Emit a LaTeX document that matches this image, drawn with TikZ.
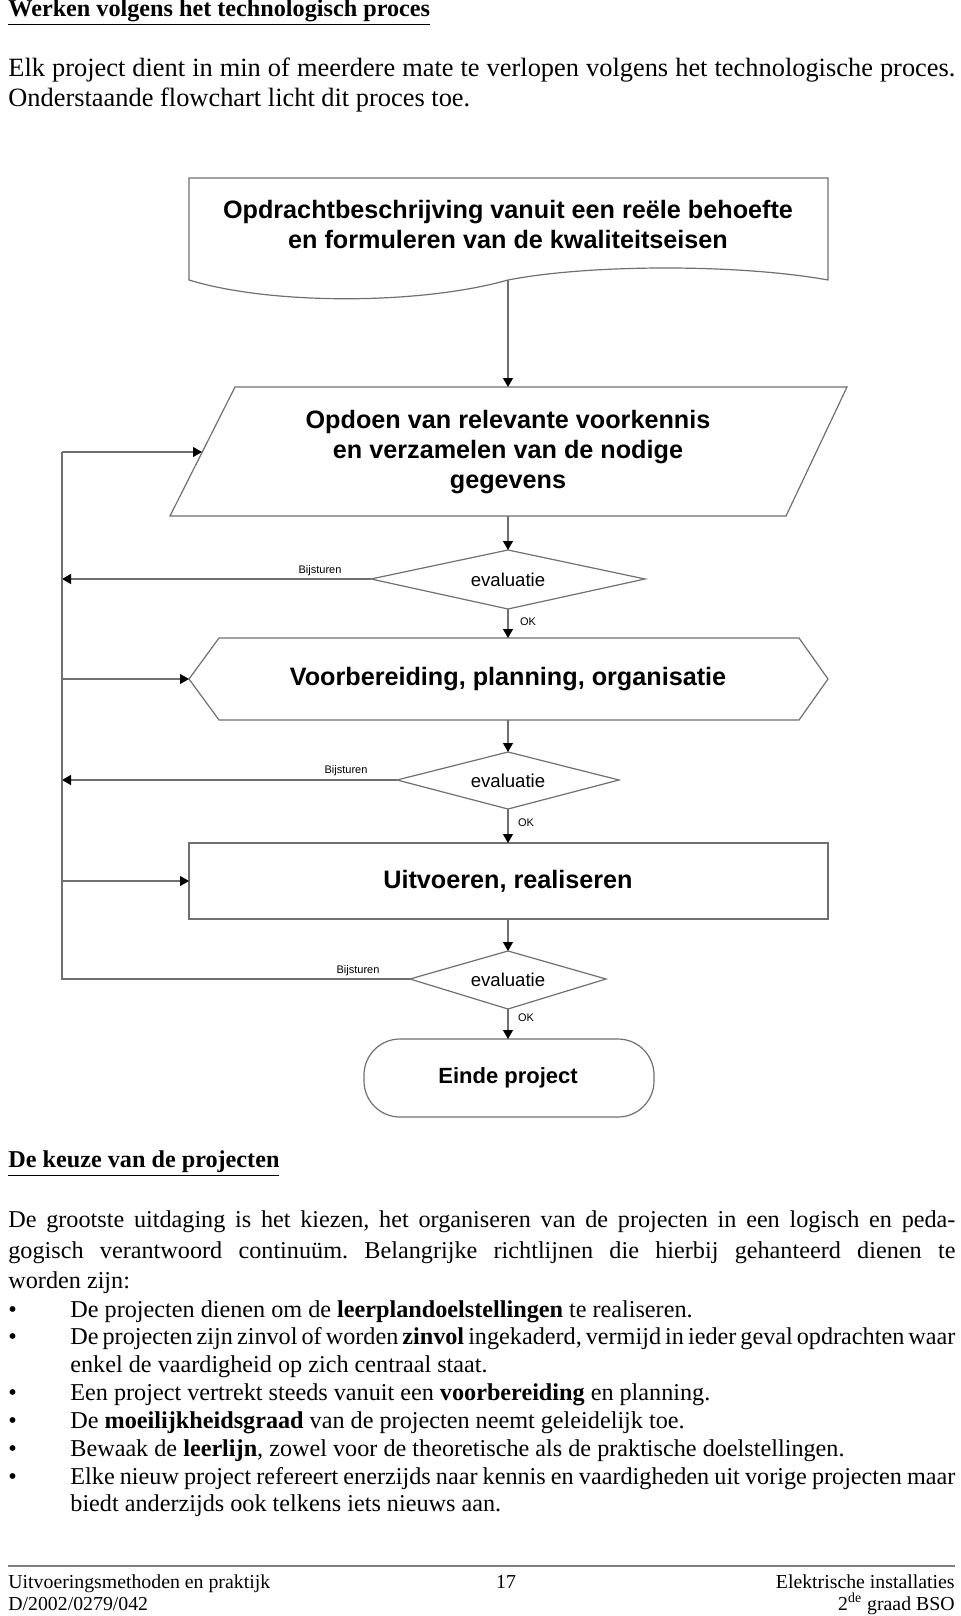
\documentclass[tikz,border=0pt]{standalone}
\usepackage{fontspec}
\setmainfont{Liberation Serif}
\newfontfamily\arial{Liberation Sans}
\usetikzlibrary{arrows.meta}
\definecolor{linegray}{HTML}{707070}
\frenchspacing
\begin{document}
\begin{tikzpicture}[x=0.5pt,y=-0.5pt,
  ln/.style={draw=linegray, line width=0.55pt},
  shp/.style={draw=linegray, line width=0.6pt, fill=white},
  arr/.style={ln, -{Triangle[length=4.5pt,width=5pt,color=black]}},
  boxtxt/.style={font=\arial\bfseries\fontsize{12.6}{15}\selectfont, align=center, inner sep=0pt},
  evaltxt/.style={font=\arial\fontsize{9.3}{11}\selectfont, inner sep=0pt},
  smalltxt/.style={font=\arial\fontsize{5.5}{6.5}\selectfont, inner sep=0pt},
  body/.style={font=\fontsize{12.1}{14.5}\selectfont, inner sep=0pt, anchor=base west},
  bodyb/.style={font=\bfseries\fontsize{12.1}{14.5}\selectfont, inner sep=0pt, anchor=base west},
  headp/.style={font=\fontsize{13.2}{15.5}\selectfont, inner sep=0pt, anchor=base west},
  foot/.style={font=\fontsize{9.9}{12}\selectfont, inner sep=0pt},
  bul/.style={font=\fontsize{12.1}{14.5}\selectfont, inner sep=0pt, anchor=base west}
]
\useasboundingbox (0,0) rectangle (960,1616);

% ---------- header text ----------
\node[bodyb] (title) at (8,16.5) {\underline{Werken volgens het technologisch proces}};
\node[headp] (p1) at (8,76) {\hbox to 473.5pt{Elk project dient in min of meerdere mate te verlopen volgens het technologische proces.}};
\node[headp] (p2) at (8,106) {Onderstaande flowchart licht dit proces toe.};

% ---------- shapes ----------
% document shape
\draw[shp] (189,178) -- (828,178) -- (828,280)
  .. controls (740,264) and (590,264) .. (508,280)
  .. controls (420,305) and (270,305) .. (189,280) -- cycle;
\node[boxtxt] (t1) at (508,224.5) {Opdrachtbeschrijving vanuit een reële behoefte\\en formuleren van de kwaliteitseisen};
\coordinate (b1) at (508,280);

% parallelogram
\draw[shp] (235,387) -- (847,387) -- (786,516) -- (170,516) -- cycle;
\node[boxtxt] (t2) at (508,452) {Opdoen van relevante voorkennis\\en verzamelen van de nodige\\gegevens};
\coordinate (p2top) at (508,387);
\coordinate (p2bot) at (508,516);
\coordinate (p2in) at (202,452);

% diamond 1
\draw[shp] (371,579) -- (508,550) -- (645,579) -- (508,609) -- cycle;
\node[evaltxt] (e1) at (508,580) {evaluatie};
\coordinate (d1t) at (508,550);
\coordinate (d1b) at (508,609);
\coordinate (d1l) at (371,579);

% hexagon
\draw[shp] (189,679) -- (219,638) -- (799,638) -- (828,679) -- (799,720) -- (219,720) -- cycle;
\node[boxtxt] (t3) at (508,679) {Voorbereiding, planning, organisatie};
\coordinate (h3t) at (508,638);
\coordinate (h3b) at (508,720);
\coordinate (h3l) at (189,679);

% diamond 2
\draw[shp] (397,780) -- (508,752) -- (619,780) -- (508,809) -- cycle;
\node[evaltxt] (e2) at (508,781) {evaluatie};
\coordinate (d2t) at (508,752);
\coordinate (d2b) at (508,809);
\coordinate (d2l) at (397,780);

% rectangle
\draw[shp] (189,843) rectangle (828,919);
\node[boxtxt] (t4) at (508,881) {Uitvoeren, realiseren};
\coordinate (r4t) at (508,843);
\coordinate (r4b) at (508,919);
\coordinate (r4l) at (189,881);

% diamond 3
\draw[shp] (410,979) -- (508,951) -- (606,979) -- (508,1009) -- cycle;
\node[evaltxt] (e3) at (508,980) {evaluatie};
\coordinate (d3t) at (508,951);
\coordinate (d3b) at (508,1009);
\coordinate (d3l) at (410,979);

% terminal
\draw[shp, rounded corners=18pt] (364,1039) rectangle (654,1117);
\node[boxtxt, font=\arial\bfseries\fontsize{11}{13}\selectfont] (t5) at (508,1078) {Einde project};
\coordinate (e5t) at (508,1039);

% ---------- connectors ----------
\draw[arr] (b1) -- (p2top);
\draw[arr] (p2bot) -- (d1t);
\draw[arr] (d1b) -- (h3t);
\draw[arr] (h3b) -- (d2t);
\draw[arr] (d2b) -- (r4t);
\draw[arr] (r4b) -- (d3t);
\draw[arr] (d3b) -- (e5t);

\coordinate (fb1) at (62,579);
\coordinate (fb2) at (62,780);
\coordinate (fb3) at (62,979);
\coordinate (fbtop) at (62,452);
\coordinate (fbh) at (62,679);
\coordinate (fbr) at (62,881);
\draw[arr] (d1l) -- (fb1);
\draw[arr] (d2l) -- (fb2);
\draw[ln] (d3l) -- (fb3) -- (fbtop);
\draw[arr] (fbtop) -- (p2in);
\draw[arr] (fbh) -- (h3l);
\draw[arr] (fbr) -- (r4l);

% labels
\node[smalltxt] (bj1) at (320,571) {Bijsturen};
\node[smalltxt] (bj2) at (346,771) {Bijsturen};
\node[smalltxt] (bj3) at (358,971) {Bijsturen};
\node[smalltxt] (ok1) at (528,622) {OK};
\node[smalltxt] (ok2) at (526,823) {OK};
\node[smalltxt] (ok3) at (526,1018) {OK};

% ---------- lower text ----------
\node[bodyb] (h2) at (8,1167) {\underline{De keuze van de projecten}};
\node[body] (l1) at (8,1227) {\hbox to 473.5pt{De grootste uitdaging is het kiezen, het organiseren van de projecten in een logisch en peda-}};
\node[body] (l2) at (8,1258) {\hbox to 473.5pt{gogisch verantwoord continuüm. Belangrijke richtlijnen die hierbij gehanteerd dienen te}};
\node[body] (l3) at (8,1288) {worden zijn:};

\node[bul] (u1) at (8,1317) {\textbullet};
\node[body] (b1t) at (70,1317) {De projecten dienen om de \textbf{leerplandoelstellingen} te realiseren.};
\node[bul] (u2) at (8,1344) {\textbullet};
\node[body] (b2t) at (70,1344) {\hbox to 442.5pt{De projecten zijn zinvol of worden \textbf{zinvol} ingekaderd, vermijd in ieder geval opdrachten waar}};
\node[body] (b2u) at (70,1372) {enkel de vaardigheid op zich centraal staat.};
\node[bul] (u3) at (8,1400) {\textbullet};
\node[body] (b3t) at (70,1400) {Een project vertrekt steeds vanuit een \textbf{voorbereiding} en planning.};
\node[bul] (u4) at (8,1428) {\textbullet};
\node[body] (b4t) at (70,1428) {De \textbf{moeilijkheidsgraad} van de projecten neemt geleidelijk toe.};
\node[bul] (u5) at (8,1456) {\textbullet};
\node[body] (b5t) at (70,1456) {Bewaak de \textbf{leerlijn}, zowel voor de theoretische als de praktische doelstellingen.};
\node[bul] (u6) at (8,1484) {\textbullet};
\node[body] (b6t) at (70,1484) {\hbox to 442.5pt{Elke nieuw project refereert enerzijds naar kennis en vaardigheden uit vorige projecten maar}};
\node[body] (b6u) at (70,1511) {biedt anderzijds ook telkens iets nieuws aan.};

% ---------- footer ----------
\coordinate (fl) at (8,1566);
\coordinate (fr) at (955,1566);
\draw[draw=gray, line width=1pt] (fl) -- (fr);
\node[foot, anchor=base west] (f1) at (8,1588) {Uitvoeringsmethoden en praktijk};
\node[foot, anchor=base west] (f2) at (8,1610) {D/2002/0279/042};
\node[foot, anchor=base] (f3) at (506,1588) {17};
\node[foot, anchor=base east] (f4) at (955,1588) {Elektrische installaties};
\node[foot, anchor=base east] (f5) at (955,1610) {2\textsuperscript{de} graad BSO};
\end{tikzpicture}
\end{document}
